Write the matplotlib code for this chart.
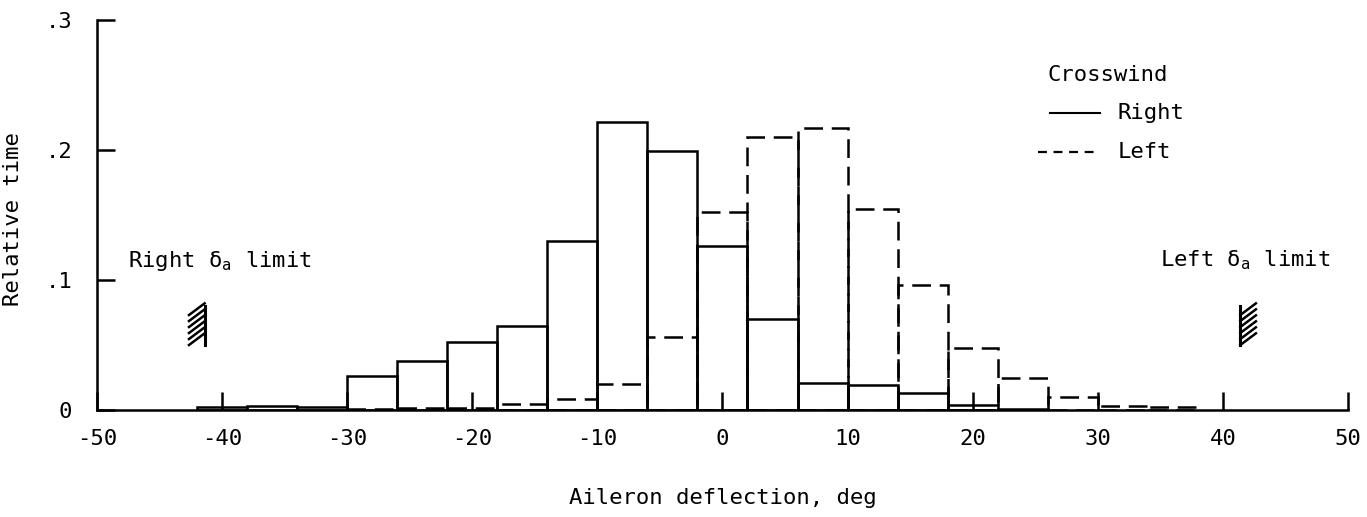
import numpy as np
import matplotlib
matplotlib.use("Agg")
import matplotlib.pyplot as plt


# -----------------------------
# DATA
# -----------------------------
right_edges = [-42, -38, -34, -30, -26, -22, -18, -14, -10, -6, -2, 2, 6, 10, 14, 18, 22, 26]
right_vals = [0.002, 0.003, 0.002, 0.026, 0.0375, 0.052, 0.065, 0.130, 0.222, 0.1995,
              0.126, 0.070, 0.021, 0.019, 0.013, 0.004, 0.001]

left_edges = [-30, -26, -22, -18, -14, -10, -6, -2, 2, 6, 10, 14, 18, 22, 26, 30, 34, 38]
left_vals = [0.001, 0.0015, 0.0015, 0.0044, 0.0085, 0.020, 0.056, 0.152, 0.210, 0.217,
             0.155, 0.096, 0.048, 0.0245, 0.010, 0.003, 0.002]

limit_right = -41.4
limit_left = 41.4
limit_span = [0.050, 0.080]

x_ticks = [-50, -40, -30, -20, -10, 0, 10, 20, 30, 40, 50]
y_ticks = [0, 0.1, 0.2, 0.3]
y_ticklabels = ["0", ".1", ".2", ".3"]


# -----------------------------
# STYLE
# -----------------------------
plt.rcParams["font.family"] = ["DejaVu Sans Mono", "DejaVu Sans"]
plt.rcParams["mathtext.fontset"] = "custom"
plt.rcParams["mathtext.rm"] = "DejaVu Sans Mono"
plt.rcParams["mathtext.it"] = "DejaVu Sans Mono"
FS = 16
LW = 1.8

fig = plt.figure(figsize=(13.67, 5.17), dpi=100)
ax = fig.add_axes([0.071, 0.207, 0.915, 0.754])


# -----------------------------
# HISTOGRAMS
# -----------------------------
ax.bar(left_edges[:-1], left_vals, width=np.diff(left_edges), align="edge",
       fill=False, edgecolor="black", linewidth=LW, linestyle=(0, (7.5, 3.5)))
ax.bar(right_edges[:-1], right_vals, width=np.diff(right_edges), align="edge",
       fill=False, edgecolor="black", linewidth=LW)


# -----------------------------
# AILERON LIMIT MARKERS
# -----------------------------
def limit_mark(x, side):
    y0, y1 = limit_span
    ax.plot([x, x], [y0, y1], color="black", lw=2.2)
    hw = 1.25 * side
    step = (y1 - y0) / 6.5
    for k in range(6):
        yb = y0 + k * step
        if side < 0:
            ax.plot([x + hw, x], [yb, yb + 0.009], color="black", lw=1.8)
        else:
            ax.plot([x, x + hw], [yb, yb + 0.009], color="black", lw=1.8)


limit_mark(limit_right, -1)
limit_mark(limit_left, 1)

ax.text(-47.5, 0.115, r"Right $\delta_a$ limit", fontsize=FS, ha="left", va="center")
ax.text(35.0, 0.115, r"Left $\delta_a$ limit", fontsize=FS, ha="left", va="center")


# -----------------------------
# LEGEND (drawn by hand like the original)
# -----------------------------
ax.text(26.0, 0.2577, "Crosswind", fontsize=FS, ha="left", va="center")
ax.plot([26.2, 30.2], [0.2285, 0.2285], color="black", lw=1.5)
ax.text(31.6, 0.2285, "Right", fontsize=FS, ha="left", va="center")
ax.plot([25.2, 30.0], [0.1985, 0.1985], color="black", lw=1.6, linestyle=(0, (4, 3)))
ax.text(31.6, 0.1985, "Left", fontsize=FS, ha="left", va="center")


# -----------------------------
# AXES
# -----------------------------
ax.set_xlim(-50, 50)
ax.set_ylim(0, 0.3)
ax.set_xticks(x_ticks)
ax.set_xticklabels([str(t) for t in x_ticks])
ax.set_yticks(y_ticks)
ax.set_yticklabels(y_ticklabels)
ax.tick_params(direction="in", length=13, width=LW, labelsize=FS, color="black")
ax.tick_params(axis="x", pad=14)
ax.tick_params(axis="y", pad=18)

for side in ["top", "right"]:
    ax.spines[side].set_visible(False)
for side in ["left", "bottom"]:
    ax.spines[side].set_linewidth(LW)

ax.set_xlabel("Aileron deflection, deg", fontsize=FS)
ax.xaxis.set_label_coords(0.5, -0.2)
ax.set_ylabel("Relative time", fontsize=FS)
ax.yaxis.set_label_coords(-0.059, 0.49)

fig.savefig("out.png", dpi=100)
